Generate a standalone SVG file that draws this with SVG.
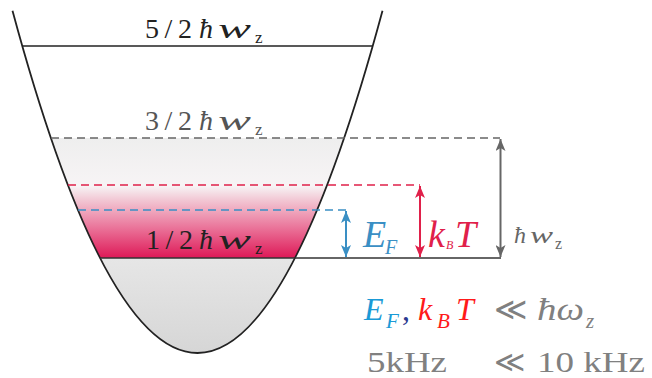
<svg xmlns="http://www.w3.org/2000/svg" width="652" height="378" viewBox="0 0 652 378">
  <defs>
    <linearGradient id="gPink" gradientUnits="userSpaceOnUse" x1="0" y1="138" x2="0" y2="258">
      <stop offset="0" stop-color="#eeeeee"/>
      <stop offset="0.40" stop-color="#f7f4f5"/>
      <stop offset="0.52" stop-color="#f2c6d3"/>
      <stop offset="0.75" stop-color="#ea7399"/>
      <stop offset="1" stop-color="#de1957"/>
    </linearGradient>
    <linearGradient id="gGray" gradientUnits="userSpaceOnUse" x1="0" y1="258" x2="0" y2="353">
      <stop offset="0" stop-color="#e6e6e6"/>
      <stop offset="1" stop-color="#d6d6d6"/>
    </linearGradient>
    <marker id="aGray" markerUnits="userSpaceOnUse" markerWidth="12" markerHeight="10" viewBox="0 0 12 10" refX="12" refY="5" orient="auto-start-reverse">
      <path d="M0,0 L12,5 L0,10 L3,5 Z" fill="#666"/>
    </marker>
    <marker id="aRed" markerUnits="userSpaceOnUse" markerWidth="12" markerHeight="10" viewBox="0 0 12 10" refX="12" refY="5" orient="auto-start-reverse">
      <path d="M0,0 L12,5 L0,10 L3,5 Z" fill="#e0204a"/>
    </marker>
    <marker id="aBlue" markerUnits="userSpaceOnUse" markerWidth="12" markerHeight="10" viewBox="0 0 12 10" refX="12" refY="5" orient="auto-start-reverse">
      <path d="M0,0 L12,5 L0,10 L3,5 Z" fill="#3a8fc4"/>
    </marker>
  </defs>
  <style>
    .serif { font-family: "Liberation Serif", "DejaVu Serif", serif; }
    .it { font-style: italic; }
    .lvl { font-size: 28px; }
    .sub { font-size: 17px; }
    .big { font-size: 38px; }
    .eq { font-size: 32px; }
    .eqs { font-size: 21px; }
    .hz { font-size: 30px; fill: #808080; }
    .dash { stroke-dasharray: 8 5; fill: none; stroke-width: 1.6; }
  </style>

  <g id="well">
    <path d="M50.9,138 L344.1,138 Q197.5,568 50.9,138 Z" fill="url(#gPink)"/>
    <path d="M100,258 L295,258 Q197.5,448 100,258 Z" fill="url(#gGray)"/>
    <path d="M12.5,10.75 Q197.5,695.25 382.5,10.75" fill="none" stroke="#222" stroke-width="1.8"/>
  </g>

  <g id="levels">
    <path d="M22.3,46 H372.7" stroke="#222" stroke-width="1.6"/>
    <path class="dash" d="M51,138 H500" stroke="#666"/>
    <path class="dash" d="M68,185 H420" stroke="#e0204a"/>
    <path class="dash" d="M78,210 H346" stroke="#3a8fc4"/>
    <path d="M100,258 H501" stroke="#333" stroke-width="1.6"/>
  </g>

  <g id="connectors">
    <path d="M500.5,139 V257" stroke="#666" stroke-width="2" marker-start="url(#aGray)" marker-end="url(#aGray)"/>
    <path d="M420,186 V257" stroke="#e0204a" stroke-width="2" marker-start="url(#aRed)" marker-end="url(#aRed)"/>
    <path d="M346,211 V257" stroke="#3a8fc4" stroke-width="2" marker-start="url(#aBlue)" marker-end="url(#aBlue)"/>
  </g>

  <g id="label-52" class="serif" fill="#222">
    <text class="lvl" x="145" y="38" textLength="47" lengthAdjust="spacing">5/2</text>
    <text class="lvl it" x="199" y="38">ħ</text>
    <text class="lvl it" x="218" y="38" textLength="33" lengthAdjust="spacingAndGlyphs">w</text>
    <text class="sub" x="255" y="43">z</text>
  </g>
  <g id="label-32" class="serif" fill="#555">
    <text class="lvl" x="145" y="130" textLength="47" lengthAdjust="spacing">3/2</text>
    <text class="lvl it" x="199" y="130">ħ</text>
    <text class="lvl it" x="218" y="130" textLength="33" lengthAdjust="spacingAndGlyphs">w</text>
    <text class="sub" x="255" y="135">z</text>
  </g>
  <g id="label-12" class="serif" fill="#222">
    <text class="lvl" x="146" y="249" textLength="47" lengthAdjust="spacing">1/2</text>
    <text class="lvl it" x="199" y="249">ħ</text>
    <text class="lvl it" x="218" y="249" textLength="33" lengthAdjust="spacingAndGlyphs">w</text>
    <text class="sub" x="255" y="254">z</text>
  </g>

  <g id="label-EF" class="serif it" fill="#3a8fc4">
    <text class="big" x="363" y="247">E</text>
    <text x="385" y="254" font-size="20">F</text>
  </g>
  <g id="label-kBT" class="serif it" fill="#e0204a">
    <text class="big" x="428" y="247">k</text>
    <text x="446" y="249" font-size="12">B</text>
    <text class="big" x="455" y="247">T</text>
  </g>
  <g id="label-hw" class="serif" fill="#666">
    <text class="it" x="514" y="243" font-size="24">ħ</text>
    <text class="it" x="530" y="243" font-size="24" textLength="23" lengthAdjust="spacingAndGlyphs">w</text>
    <text x="555" y="249" font-size="16">z</text>
  </g>

  <g id="relation" class="serif">
    <text class="eq it" x="364" y="320" fill="#1a9ad6">E</text>
    <text class="eqs it" x="386" y="328" fill="#1a9ad6">F</text>
    <text class="eq" x="402" y="320" fill="#2b3990">,</text>
    <text class="eq it" x="418" y="320" fill="#ff1a1a">k</text>
    <text class="eqs it" x="437" y="328" fill="#ff1a1a">B</text>
    <text class="eq it" x="456" y="320" fill="#ff1a1a">T</text>
    <text class="eq" x="494" y="320" fill="#808080">≪</text>
    <text class="eq it" x="537" y="320" fill="#808080" textLength="47" lengthAdjust="spacingAndGlyphs">ħω</text>
    <text class="eqs it" x="586" y="328" fill="#808080">z</text>
  </g>
  <g id="values" class="serif">
    <text class="hz" x="367" y="372" textLength="80" lengthAdjust="spacingAndGlyphs">5kHz</text>
    <text class="hz" x="494" y="372">≪</text>
    <text class="hz" x="537" y="372" textLength="108" lengthAdjust="spacingAndGlyphs">10 kHz</text>
  </g>
</svg>
